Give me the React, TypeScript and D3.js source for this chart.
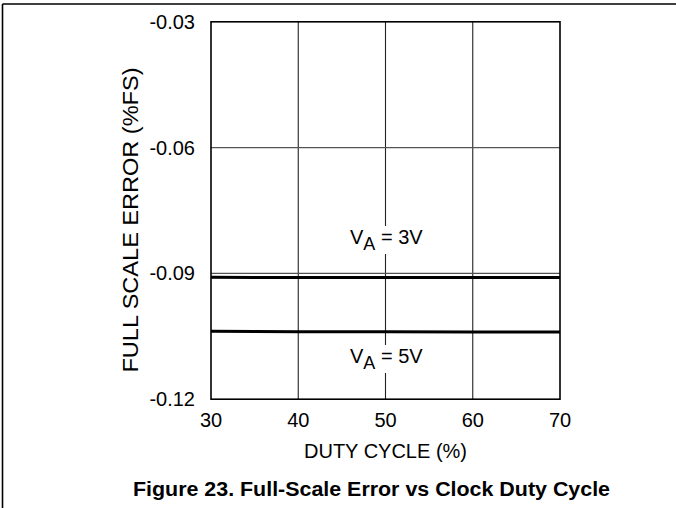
import * as d3 from "d3";

const dutyCycle = [30, 40, 50, 60, 70];
const errVa3 = [-0.0909, -0.091, -0.091, -0.091, -0.091];
const errVa5 = [-0.1038, -0.1039, -0.1039, -0.104, -0.104];
const xTicks = [30, 40, 50, 60, 70];
const yTicks = [-0.03, -0.06, -0.09, -0.12];

const W = 676;
const H = 508;
const plot = { left: 211, right: 560, top: 21.8, bottom: 399.2 };
const font = "'Liberation Sans', Arial, Helvetica, sans-serif";

export default function App() {
  const x = d3.scaleLinear().domain([30, 70]).range([plot.left, plot.right]);
  const y = d3.scaleLinear().domain([-0.12, -0.03]).range([plot.bottom, plot.top]);

  const line = d3
    .line<number>()
    .x((_, i) => x(dutyCycle[i]))
    .y((d) => y(d));

  const label = (txt: string, lx: number, ly: number) => (
    <g>
      <rect x={lx - 4} y={ly - 18} width={78} height={28} fill="#fff" />
      <text x={lx} y={ly} fontSize={20} fill="#000">
        V
        <tspan fontSize={18} dy={6}>A</tspan>
        <tspan dy={-6}>{` = ${txt}`}</tspan>
      </text>
    </g>
  );

  return (
    <svg
      width={W}
      height={H}
      style={{ position: "absolute", left: 0, top: 0, background: "#fff" }}
      fontFamily={font}
    >
      {/* page frame */}
      <line x1={2.5} x2={W} y1={4} y2={4} stroke="#000" strokeWidth={1.6} />
      <line x1={2.5} x2={2.5} y1={4} y2={H} stroke="#000" strokeWidth={1.6} />

      {/* grid */}
      {xTicks.slice(1, -1).map((t) => (
        <line key={"gx" + t} x1={x(t)} x2={x(t)} y1={plot.top} y2={plot.bottom} stroke="#222" strokeWidth={1.1} />
      ))}
      {yTicks.slice(1, -1).map((t) => (
        <line key={"gy" + t} x1={plot.left} x2={plot.right} y1={y(t)} y2={y(t)} stroke="#555" strokeWidth={1.1} />
      ))}

      {/* labels with white background over grid */}
      {label("3V", 350, 244)}
      {label("5V", 350, 363)}

      {/* data */}
      <path d={line(errVa3) ?? ""} fill="none" stroke="#000" strokeWidth={3} />
      <path d={line(errVa5) ?? ""} fill="none" stroke="#000" strokeWidth={3} />

      {/* plot frame */}
      <rect
        x={plot.left}
        y={plot.top}
        width={plot.right - plot.left}
        height={plot.bottom - plot.top}
        fill="none"
        stroke="#000"
        strokeWidth={1.6}
      />

      {/* ticks */}
      {yTicks.map((t) => (
        <text key={"ty" + t} x={195} y={y(t) + 7} textAnchor="end" fontSize={20} fill="#000">
          {t.toFixed(2)}
        </text>
      ))}
      {xTicks.map((t) => (
        <text key={"tx" + t} x={x(t)} y={427} textAnchor="middle" fontSize={20} fill="#000">
          {t}
        </text>
      ))}

      {/* axis titles */}
      <text x={385.5} y={458} textAnchor="middle" fontSize={20} fill="#000">
        DUTY CYCLE (%)
      </text>
      <text
        transform={`translate(138,220) rotate(-90)`}
        textAnchor="middle"
        fontSize={22}
        fill="#000"
        textLength={305}
        lengthAdjust="spacingAndGlyphs"
      >
        FULL SCALE ERROR (%FS)
      </text>

      {/* caption */}
      <text
        x={371.5}
        y={496}
        textAnchor="middle"
        fontSize={20}
        fontWeight="bold"
        fill="#000"
        textLength={477}
        lengthAdjust="spacingAndGlyphs"
      >
        Figure 23. Full-Scale Error vs Clock Duty Cycle
      </text>
    </svg>
  );
}
